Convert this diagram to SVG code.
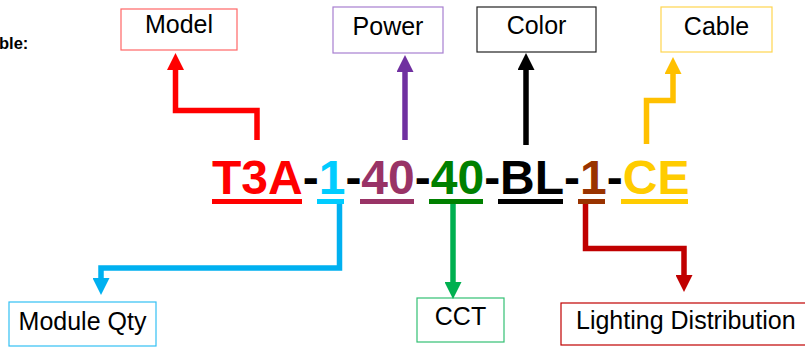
<svg xmlns="http://www.w3.org/2000/svg" width="805" height="347" viewBox="0 0 805 347">
<style>
  .lbl { font-family: "Liberation Sans", Arial, sans-serif; font-size: 25px; fill: #000; text-anchor: middle; }
  .box { fill: #fff; stroke-width: 1.2; }
  .code { font-family: "Liberation Sans", Arial, sans-serif; font-size: 48px; font-weight: bold; }
  .con { fill: none; stroke-width: 5.5; stroke-linejoin: miter; stroke-linecap: butt; }
</style>
<defs>
  <marker id="ah-red" viewBox="0 0 17 17" refX="0" refY="8.5" markerWidth="17" markerHeight="17" markerUnits="userSpaceOnUse" orient="auto"><path d="M0,0 L17,8.5 L0,17 z" fill="#FF0000"/></marker>
  <marker id="ah-purple" viewBox="0 0 17 17" refX="0" refY="8.5" markerWidth="17" markerHeight="17" markerUnits="userSpaceOnUse" orient="auto"><path d="M0,0 L17,8.5 L0,17 z" fill="#7030A0"/></marker>
  <marker id="ah-black" viewBox="0 0 17 17" refX="0" refY="8.5" markerWidth="17" markerHeight="17" markerUnits="userSpaceOnUse" orient="auto"><path d="M0,0 L17,8.5 L0,17 z" fill="#000000"/></marker>
  <marker id="ah-gold" viewBox="0 0 17 17" refX="0" refY="8.5" markerWidth="17" markerHeight="17" markerUnits="userSpaceOnUse" orient="auto"><path d="M0,0 L17,8.5 L0,17 z" fill="#FFC000"/></marker>
  <marker id="ah-cyan" viewBox="0 0 17 17" refX="0" refY="8.5" markerWidth="17" markerHeight="17" markerUnits="userSpaceOnUse" orient="auto"><path d="M0,0 L17,8.5 L0,17 z" fill="#00B0F0"/></marker>
  <marker id="ah-green" viewBox="0 0 17 17" refX="0" refY="8.5" markerWidth="17" markerHeight="17" markerUnits="userSpaceOnUse" orient="auto"><path d="M0,0 L17,8.5 L0,17 z" fill="#00B050"/></marker>
  <marker id="ah-darkred" viewBox="0 0 17 17" refX="0" refY="8.5" markerWidth="17" markerHeight="17" markerUnits="userSpaceOnUse" orient="auto"><path d="M0,0 L17,8.5 L0,17 z" fill="#C00000"/></marker>
</defs>
<rect width="805" height="347" fill="#fff"/>

<text x="-1" y="49" font-family="Liberation Sans, Arial, sans-serif" font-size="16.5" font-weight="bold" fill="#000">ble:</text>

<g id="node-model">
  <rect class="box" x="121" y="9" width="116" height="41" stroke="#FF6666"/>
  <text class="lbl" x="179" y="33">Model</text>
</g>
<g id="node-power">
  <rect class="box" x="333" y="7" width="110" height="46" stroke="#A77FD0"/>
  <text class="lbl" x="388" y="35">Power</text>
</g>
<g id="node-color">
  <rect class="box" x="477" y="7" width="119" height="45" stroke="#222"/>
  <text class="lbl" x="536.5" y="34">Color</text>
</g>
<g id="node-cable">
  <rect class="box" x="661" y="7" width="111" height="45" stroke="#FFD54F"/>
  <text class="lbl" x="716.5" y="35">Cable</text>
</g>
<g id="node-moduleqty">
  <rect class="box" x="9" y="302" width="147" height="44" stroke="#33C0F3"/>
  <text class="lbl" x="82.5" y="330">Module Qty</text>
</g>
<g id="node-cct">
  <rect class="box" x="417" y="298" width="87" height="44" stroke="#33C073"/>
  <text class="lbl" x="460.5" y="325">CCT</text>
</g>
<g id="node-lighting">
  <rect class="box" x="561" y="303" width="260" height="42" stroke="#C00000"/>
  <text class="lbl" x="576" y="329" style="text-anchor:start">Lighting Distribution</text>
</g>

<g id="node-code">
  <text class="code" x="212" y="194"><tspan fill="#FF0000">T3A</tspan><tspan fill="#000">-</tspan><tspan fill="#00CCFF">1</tspan><tspan fill="#000">-</tspan><tspan fill="#993366">40</tspan><tspan fill="#000">-</tspan><tspan fill="#008000">40</tspan><tspan fill="#000">-</tspan><tspan fill="#000">BL</tspan><tspan fill="#000">-</tspan><tspan fill="#993300">1</tspan><tspan fill="#000">-</tspan><tspan fill="#FFCC00">CE</tspan></text>
  <rect x="212" y="199" width="90" height="5" fill="#FF0000"/>
  <rect x="317" y="199" width="27" height="5" fill="#00CCFF"/>
  <rect x="360" y="199" width="54" height="5" fill="#993366"/>
  <rect x="429" y="199" width="54" height="5" fill="#008000"/>
  <rect x="498" y="199" width="65" height="5" fill="#000000"/>
  <rect x="578" y="199" width="27" height="5" fill="#993300"/>
  <rect x="621" y="199" width="67" height="5" fill="#FFCC00"/>
</g>

<g id="connectors">
  <path class="con" d="M257,140 V110.5 H175.5 V70" stroke="#FF0000" marker-end="url(#ah-red)"/>
  <path class="con" d="M405,140 V72" stroke="#7030A0" marker-end="url(#ah-purple)"/>
  <path class="con" d="M526,145 V70" stroke="#000000" marker-end="url(#ah-black)"/>
  <path class="con" d="M646.5,144 V100.5 H673 V74" stroke="#FFC000" marker-end="url(#ah-gold)"/>
  <path class="con" d="M339.5,204 V268 H101 V278" stroke="#00B0F0" marker-end="url(#ah-cyan)"/>
  <path class="con" d="M453,204 V282" stroke="#00B050" marker-end="url(#ah-green)"/>
  <path class="con" d="M585.5,204 V248.5 H684 V275" stroke="#C00000" marker-end="url(#ah-darkred)"/>
</g>
</svg>
